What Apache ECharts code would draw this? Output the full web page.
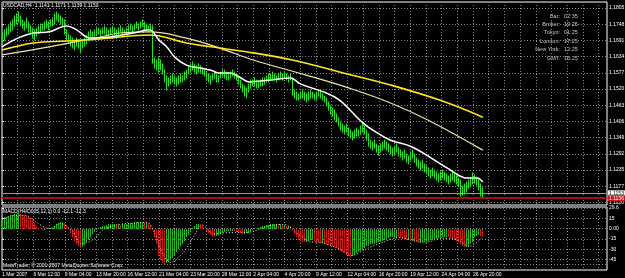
<!DOCTYPE html>
<html><head><meta charset="utf-8">
<script src="https://cdn.jsdelivr.net/npm/echarts@6/dist/echarts.min.js"></script>
<style>html,body{margin:0;padding:0;background:#000}#c{width:625px;height:278px}</style>
</head><body><div id="c"></div>
<script>
// ---------- DATA ----------
const headerText = 'USDCAD,H4  1.1141 1.1171 1.1139 1.1153';
const macdTitle = 'MACD(H4/D005,12,1) 0.0 -12.1 -12.3';
const copyrightText = 'MetaTrader, \u00A9 2001-2007 MetaQuotes Software Corp.';
const timeLabels = ['1 Mar 2007','6 Mar 12:00','9 Mar 04:00','13 Mar 20:00','16 Mar 12:00','21 Mar 04:00','23 Mar 20:00','28 Mar 12:00','2 Apr 04:00','4 Apr 20:00','9 Apr 12:00','12 Apr 04:00','16 Apr 20:00','19 Apr 12:00','24 Apr 04:00','26 Apr 20:00'];
const priceTicks = [1.1805,1.1748,1.1691,1.1634,1.1577,1.1520,1.1463,1.1406,1.1349,1.1292,1.1235,1.1177,1.1120];
const macdTicks = [29.6,15,0,-15,-30,-45,-51.5];
const macdTickText = ['29.6','15','0.00','-15','-30','-45','-51.5'];
const infoLabels = ['Bar:','Broker:','Tokyo:','London:','New York:','GMT:'];
const infoValues = ['02:35','19:25','01:25','17:25','12:25','16:25'];
const bidPrice = 1.1153;
const linePrice = 1.1136;

const highs = [
1.1717,1.1728,1.1735,1.1742,1.1756,1.1763,1.1777,1.1784,1.1791,1.1777,
1.1763,1.1756,1.1770,1.1756,1.1742,1.1735,1.1728,1.1735,1.1742,1.1749,
1.1749,1.1756,1.1763,1.1756,1.1763,1.1770,1.1777,1.1784,1.1791,1.1784,
1.1777,1.1770,1.1763,1.1728,1.1713,1.1706,1.1699,1.1692,1.1699,1.1692,
1.1685,1.1692,1.1699,1.1706,1.1721,1.1728,1.1721,1.1728,1.1735,1.1735,
1.1728,1.1735,1.1742,1.1735,1.1728,1.1735,1.1742,1.1735,1.1728,1.1735,
1.1742,1.1735,1.1728,1.1735,1.1742,1.1749,1.1742,1.1749,1.1756,1.1749,
1.1756,1.1763,1.1756,1.1749,1.1742,1.1749,1.1742,1.1629,1.1622,1.1615,
1.1629,1.1622,1.1608,1.1587,1.1566,1.1559,1.1566,1.1573,1.1566,1.1559,
1.1566,1.1573,1.1566,1.1580,1.1587,1.1601,1.1608,1.1615,1.1608,1.1601,
1.1608,1.1601,1.1594,1.1587,1.1580,1.1573,1.1566,1.1573,1.1580,1.1573,
1.1566,1.1580,1.1587,1.1587,1.1580,1.1573,1.1580,1.1587,1.1580,1.1573,
1.1566,1.1552,1.1538,1.1530,1.1523,1.1538,1.1552,1.1552,1.1559,1.1552,
1.1545,1.1552,1.1559,1.1552,1.1559,1.1566,1.1573,1.1573,1.1580,1.1573,
1.1566,1.1573,1.1580,1.1573,1.1580,1.1573,1.1566,1.1573,1.1559,1.1516,
1.1509,1.1502,1.1509,1.1516,1.1509,1.1502,1.1509,1.1516,1.1509,1.1502,
1.1509,1.1516,1.1509,1.1502,1.1495,1.1488,1.1474,1.1460,1.1453,1.1446,
1.1432,1.1418,1.1404,1.1397,1.1390,1.1397,1.1383,1.1376,1.1369,1.1376,
1.1383,1.1376,1.1390,1.1397,1.1390,1.1376,1.1361,1.1347,1.1340,1.1333,
1.1340,1.1326,1.1319,1.1326,1.1333,1.1340,1.1333,1.1326,1.1319,1.1312,
1.1319,1.1326,1.1312,1.1305,1.1298,1.1305,1.1291,1.1284,1.1298,1.1305,
1.1291,1.1277,1.1270,1.1263,1.1270,1.1256,1.1249,1.1242,1.1235,1.1242,
1.1235,1.1228,1.1221,1.1228,1.1235,1.1228,1.1221,1.1214,1.1221,1.1228,
1.1221,1.1214,1.1207,1.1200,1.1179,1.1186,1.1193,1.1200,1.1207,1.1214,
1.1224,1.1217,1.1210,1.1200,1.1186,1.1171];

const lows = [
1.1685,1.1692,1.1706,1.1713,1.1721,1.1728,1.1742,1.1749,1.1756,1.1742,
1.1735,1.1728,1.1735,1.1721,1.1713,1.1699,1.1692,1.1706,1.1713,1.1721,
1.1728,1.1728,1.1735,1.1728,1.1742,1.1742,1.1749,1.1756,1.1763,1.1756,
1.1749,1.1742,1.1713,1.1692,1.1685,1.1671,1.1664,1.1657,1.1671,1.1664,
1.1650,1.1664,1.1671,1.1678,1.1692,1.1699,1.1692,1.1706,1.1706,1.1713,
1.1706,1.1713,1.1713,1.1706,1.1706,1.1713,1.1721,1.1706,1.1699,1.1713,
1.1721,1.1713,1.1706,1.1713,1.1721,1.1728,1.1721,1.1728,1.1735,1.1728,
1.1735,1.1742,1.1728,1.1728,1.1721,1.1728,1.1611,1.1594,1.1587,1.1580,
1.1594,1.1587,1.1573,1.1545,1.1516,1.1530,1.1538,1.1545,1.1538,1.1530,
1.1538,1.1545,1.1545,1.1552,1.1559,1.1573,1.1580,1.1587,1.1580,1.1573,
1.1580,1.1580,1.1573,1.1566,1.1552,1.1545,1.1538,1.1552,1.1559,1.1545,
1.1545,1.1559,1.1566,1.1559,1.1552,1.1552,1.1559,1.1566,1.1559,1.1552,
1.1538,1.1523,1.1509,1.1495,1.1488,1.1509,1.1523,1.1530,1.1530,1.1523,
1.1523,1.1530,1.1538,1.1530,1.1538,1.1545,1.1545,1.1552,1.1552,1.1552,
1.1545,1.1552,1.1559,1.1552,1.1559,1.1552,1.1545,1.1552,1.1499,1.1488,
1.1481,1.1481,1.1488,1.1488,1.1481,1.1474,1.1481,1.1488,1.1488,1.1481,
1.1481,1.1495,1.1488,1.1481,1.1474,1.1460,1.1446,1.1432,1.1425,1.1411,
1.1404,1.1390,1.1376,1.1369,1.1361,1.1369,1.1354,1.1347,1.1340,1.1347,
1.1354,1.1354,1.1361,1.1369,1.1361,1.1340,1.1333,1.1319,1.1312,1.1305,
1.1312,1.1298,1.1288,1.1298,1.1305,1.1312,1.1305,1.1298,1.1291,1.1284,
1.1291,1.1298,1.1284,1.1281,1.1270,1.1277,1.1263,1.1256,1.1270,1.1277,
1.1263,1.1249,1.1242,1.1235,1.1242,1.1228,1.1221,1.1214,1.1207,1.1214,
1.1207,1.1200,1.1193,1.1200,1.1207,1.1200,1.1193,1.1186,1.1193,1.1200,
1.1193,1.1186,1.1179,1.1143,1.1147,1.1150,1.1157,1.1172,1.1179,1.1186,
1.1193,1.1189,1.1182,1.1164,1.1143,1.1139];

// moving averages, read at sampled bars
const maWhiteIdx = [0,8,16,24,33,38,45,55,67,75,80,84,88,94,101,106,111,116,121,126,137,147,152,164,172,184,193,198,209,227,237,242,245];
const maWhite = [1.1668,1.1699,1.1717,1.1721,1.1742,1.1728,1.1699,1.1703,1.1717,1.1728,1.1692,1.1668,1.1632,1.1604,1.1594,1.1587,1.1576,1.1576,1.1562,1.1545,1.1552,1.1559,1.1538,1.1509,1.1481,1.1400,1.1358,1.1340,1.1316,1.1242,1.1207,1.1207,1.1193];
const maYellowIdx = [0,16,33,50,75,94,111,128,148,172,198,223,245];
const maYellow = [1.1657,1.1682,1.1689,1.1696,1.1710,1.1682,1.1664,1.1647,1.1622,1.1580,1.1534,1.1481,1.1421];
const maKhakiIdx = [0,24,50,60,75,94,111,128,155,177,198,217,245];
const maKhaki = [1.1640,1.1668,1.1703,1.1717,1.1721,1.1699,1.1664,1.1622,1.1569,1.1523,1.1471,1.1411,1.1305];

const macdHist = [
14,16,17,18,19,20,21,21,22,21,20,19,18,17,15,12,8,
4,1,-1,-2,-2,-1,0,1,1,2,
4,6,8,9,9,8,5,
0,-6,-12,-18,-23,-26,-28,-27,-24,
-20,-16,-12,-8,-5,-2,0,
2,3,4,5,6,6,7,7,6,6,5,6,6,7,7,8,8,9,9,10,10,10,9,9,8,
5,-2,-12,-22,-32,-40,-46,-50,-51,-50,-48,-45,-42,-38,-34,-30,-26,-22,-18,-13,-9,-4,
1,4,6,7,6,3,
-1,-4,-7,-9,-11,-12,-11,-9,
-7,-6,-5,-4,-4,-3,-3,-4,-5,-6,-7,-8,-8,
-7,-6,-4,-2,-1,0,1,2,3,3,4,5,5,6,6,7,7,6,6,5,5,4,4,3,
-2,-8,-13,-16,-18,-19,-20,-19,-18,-17,-17,
-18,-19,-20,-21,-21,-22,-23,-24,-25,-26,-27,-28,-30,-32,-34,-36,
-38,-40,-41,-40,-38,-36,-34,-32,-30,-28,-26,-25,
-24,-23,-22,-22,-21,-20,-19,-18,-16,-15,
-14,-13,-13,-12,-12,-13,-14,-15,-16,-17,-17,-18,-18,-19,
-20,-21,-21,-20,-19,-19,-18,-17,-16,-16,
-15,-14,-13,-13,-12,-12,-13,-14,-15,-16,-18,
-20,-23,-26,-27,-27,-25,-22,-19,-16,-13,
-11,-10,-11,-12.1];
const signalIdx = [0,6,12,18,24,30,36,40,46,52,60,68,74,78,82,86,92,98,102,108,114,122,128,136,144,150,156,164,172,178,186,194,202,210,216,224,232,238,245];
const signalVal = [13,19,19,8,0,7,-4,-22,-17,-1,6,8,9,-8,-38,-49,-36,-10,5,-8,-6,-6,-4,4,6,-6,-18,-21,-30,-39,-29,-20,-13,-17,-20,-14,-16,-26,-12.3];

// ---------- CHART ----------
const FONT = 'Liberation Sans';
const XMAX = 308.3;
const BAR_GREEN = '#1fe61f';
const MACD_UP = '#1fb81f';
const MACD_DOWN = '#c41a1a';
const gridLine = {color:'#8a8a8a', type:[1,2], width:1};
const chart = echarts.init(document.getElementById('c'), null, {renderer:'canvas', width:625, height:278});

// snap a pixel x to an even column so 1px bars render with clean colour
const snapX = (px) => 2*Math.round(px/2) + 0.5;

const infoGraphics = [];
infoLabels.forEach((t,k)=>{
  infoGraphics.push({type:'text', x:560, y:16+k*8.4, style:{text:t, fill:'#c8c8c8', align:'right', verticalAlign:'middle', font:'5.5px '+FONT}});
  infoGraphics.push({type:'text', x:564, y:16+k*8.4, style:{text:infoValues[k], fill:'#c8c8c8', align:'left', verticalAlign:'middle', font:'5.5px '+FONT}});
});

const option = {
  backgroundColor:'#000',
  animation:false,
  grid:[
    {left:2, top:2, width:605, height:203, show:true, borderColor:'#fff', borderWidth:1, outerBoundsMode:'none', containLabel:false},
    {left:2, top:207, width:605, height:63, show:true, borderColor:'#fff', borderWidth:1, outerBoundsMode:'none', containLabel:false}
  ],
  xAxis:[
    {type:'value', gridIndex:0, min:0, max:XMAX, interval:8,
     axisLine:{show:false}, axisTick:{show:false}, axisLabel:{show:false},
     splitLine:{show:true, lineStyle:gridLine}},
    {type:'value', gridIndex:1, min:0, max:XMAX, interval:8,
     axisLine:{show:false}, axisTick:{show:false},
     splitLine:{show:true, lineStyle:gridLine},
     axisLabel:{show:true, color:'#fff', fontSize:5, fontFamily:FONT, align:'left', margin:2,
       showMinLabel:true, showMaxLabel:false, hideOverlap:false,
       formatter:(v)=>{ if (v % 16 !== 0) return ''; const t = timeLabels[v/16]; return t || ''; }}}
  ],
  yAxis:[
    {type:'value', gridIndex:0, position:'right', min:1.1112, max:1.1826,
     axisLine:{show:false},
     axisTick:{show:true, customValues:priceTicks, length:2, lineStyle:{color:'#fff'}},
     axisLabel:{customValues:priceTicks, formatter:(v)=>v.toFixed(4), color:'#fff', fontSize:5, fontFamily:FONT, margin:2},
     splitLine:{show:true, lineStyle:gridLine}},
    {type:'value', gridIndex:1, position:'right', min:-60.1, max:31.2,
     axisLine:{show:false},
     axisTick:{show:true, customValues:macdTicks, length:2, lineStyle:{color:'#fff'}},
     axisLabel:{customValues:macdTicks, formatter:(v)=>{const k=macdTicks.indexOf(v); return k>=0?macdTickText[k]:'';}, color:'#fff', fontSize:5, fontFamily:FONT, margin:2},
     splitLine:{show:true, lineStyle:gridLine}}
  ],
  series:[
    {type:'custom', xAxisIndex:0, yAxisIndex:0,
     encode:{x:0, y:[1,2]},
     data: highs.map((h,i)=>[i, lows[i], h]),
     renderItem:(params, api)=>{
       const i = api.value(0);
       const lo = api.coord([i, api.value(1)]);
       const hi = api.coord([i, api.value(2)]);
       const x = snapX(lo[0]);
       return {type:'line', shape:{x1:x, y1:Math.round(lo[1])+0.5, x2:x, y2:Math.round(hi[1])-0.5}, style:{stroke:BAR_GREEN, lineWidth:1}};
     }},
    {type:'line', xAxisIndex:0, yAxisIndex:0, showSymbol:false, smooth:0.4,
     data: maKhakiIdx.map((x,k)=>[x, maKhaki[k]]), lineStyle:{color:'#eee6a8', width:1.2}},
    {type:'line', xAxisIndex:0, yAxisIndex:0, showSymbol:false, smooth:0.4,
     data: maYellowIdx.map((x,k)=>[x, maYellow[k]]), lineStyle:{color:'#ffe81a', width:1.6}},
    {type:'line', xAxisIndex:0, yAxisIndex:0, showSymbol:false, smooth:0.4,
     data: maWhiteIdx.map((x,k)=>[x, maWhite[k]]), lineStyle:{color:'#ffffff', width:1.5},
     markLine:{symbol:'none', silent:true, animation:false, precision:4,
       data:[
        {yAxis:bidPrice, lineStyle:{color:'#8d9cb0', width:1, type:'solid'},
         label:{show:true, position:'end', distance:1, formatter:bidPrice.toFixed(4), backgroundColor:'#fff', color:'#000', fontSize:5, fontFamily:FONT, padding:[1,1,0,1]}},
        {yAxis:linePrice, lineStyle:{color:'#9a1212', width:2, type:'solid'},
         label:{show:true, position:'end', distance:1, formatter:linePrice.toFixed(4), backgroundColor:'#d41414', color:'#fff', fontSize:5, fontFamily:FONT, padding:[1,1,0,1]}}
       ]}},
    {type:'custom', xAxisIndex:1, yAxisIndex:1,
     encode:{x:0, y:1},
     data: macdHist.map((v,i)=>[i, v]),
     renderItem:(params, api)=>{
       const i = api.value(0), v = api.value(1);
       const p0 = api.coord([i, 0]);
       const p1 = api.coord([i, v]);
       const x = snapX(p0[0]);
       const c = (i>0 && macdHist[i] < macdHist[i-1]) ? MACD_DOWN : MACD_UP;
       return {type:'line', shape:{x1:x, y1:Math.round(p0[1]), x2:x, y2:Math.round(p1[1])}, style:{stroke:c, lineWidth:1}};
     }},
    {type:'line', xAxisIndex:1, yAxisIndex:1, showSymbol:false, smooth:0.3,
     data: signalIdx.map((x,k)=>[x, signalVal[k]]), lineStyle:{color:'#e8e8e8', width:1, type:[1,2]}}
  ],
  graphic:[
    {type:'text', x:3, y:3, style:{text:headerText, fill:'#fff', font:'5px '+FONT}},
    {type:'text', x:3, y:209, style:{text:macdTitle, fill:'#fff', font:'5px '+FONT}},
    {type:'text', x:3, y:263, style:{text:copyrightText, fill:'#fff', font:'5px '+FONT}}
  ].concat(infoGraphics)
};
chart.setOption(option);
</script>
</body></html>
